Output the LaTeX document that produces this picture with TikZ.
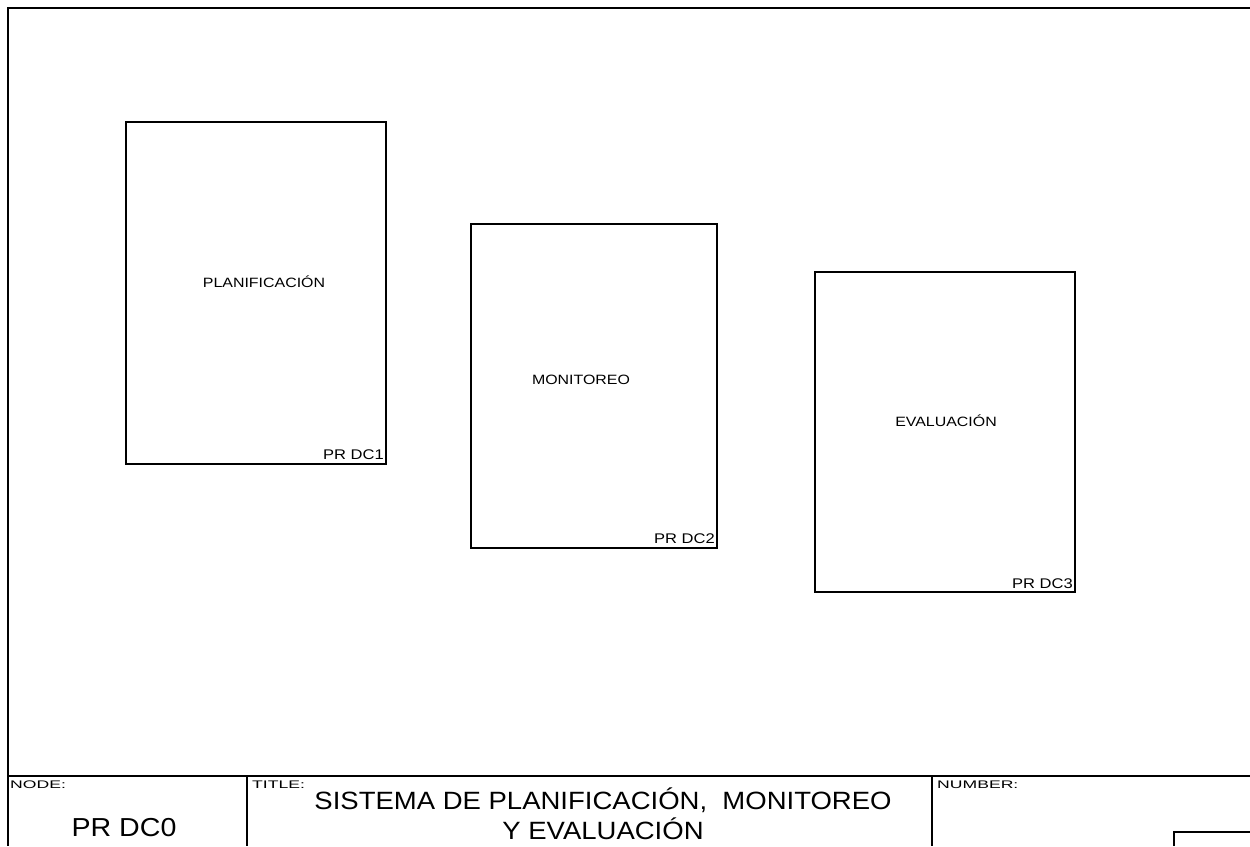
\documentclass[tikz,border=0pt]{standalone}
\usepackage{fontspec}
\setmainfont{Liberation Sans}
\newfontfamily\wideA[FakeStretch=1.1]{Liberation Sans}
\newfontfamily\wideB[FakeStretch=1.18]{Liberation Sans}
\newfontfamily\wideC[FakeStretch=1.6]{Liberation Sans}
\begin{document}
\begin{tikzpicture}[x=1pt,y=-1pt,
  frameline/.style={line width=2pt},
  procbox/.style={draw,line width=2.6pt},
  boxlabel/.style={font=\wideB\fontsize{13.5}{15}\selectfont,inner sep=0pt},
  idlabel/.style={font=\wideB\fontsize{14}{15}\selectfont,inner sep=0pt,anchor=south east},
  fieldlabel/.style={font=\wideC\fontsize{11}{12}\selectfont,inner sep=0pt,anchor=north west}]
\useasboundingbox (0,0) rectangle (1250,846);
% outer frame
\coordinate (ftl) at (8,8);
\coordinate (ftr) at (1250,8);
\coordinate (fbl) at (8,846);
\draw[frameline] (ftr) -- (ftl) -- (fbl);
% title strip
\coordinate (sl) at (8,776);
\coordinate (sr) at (1250,776);
\draw[frameline] (sl) -- (sr);
\coordinate (d1t) at (247,776);
\coordinate (d1b) at (247,846);
\coordinate (d2t) at (932,776);
\coordinate (d2b) at (932,846);
\draw[frameline] (d1t) -- (d1b);
\draw[frameline] (d2t) -- (d2b);
% small box bottom right
\coordinate (sbb) at (1174,846);
\coordinate (sbt) at (1174,832);
\coordinate (sbr) at (1250,832);
\draw[frameline] (sbb) -- (sbt) -- (sbr);
% process boxes
\draw[procbox] (126,122) rectangle (386,464);
\draw[procbox] (471,224) rectangle (717,548);
\draw[procbox] (815,272) rectangle (1075,592);
\node[boxlabel] (p1) at (264,282) {PLANIFICACIÓN};
\node[boxlabel] (p2) at (581,380) {MONITOREO};
\node[boxlabel] (p3) at (946,421) {EVALUACIÓN};
\node[idlabel] (i1) at (384,460) {PR DC1};
\node[idlabel] (i2) at (715,544) {PR DC2};
\node[idlabel] (i3) at (1073,589) {PR DC3};
% strip texts
\node[fieldlabel] (nodel) at (10,781) {NODE:};
\node[font=\wideA\fontsize{26}{28}\selectfont,inner sep=0pt] (nodev) at (124,828) {PR DC0};
\node[fieldlabel] (titlel) at (252,781) {TITLE:};
\node[font=\wideA\fontsize{25}{30}\selectfont,inner sep=0pt,align=center] (titlev) at (603,814) {SISTEMA DE PLANIFICACIÓN,\ \ MONITOREO\\Y EVALUACIÓN};
\node[fieldlabel] (numl) at (937,781) {NUMBER:};
\end{tikzpicture}
\end{document}
